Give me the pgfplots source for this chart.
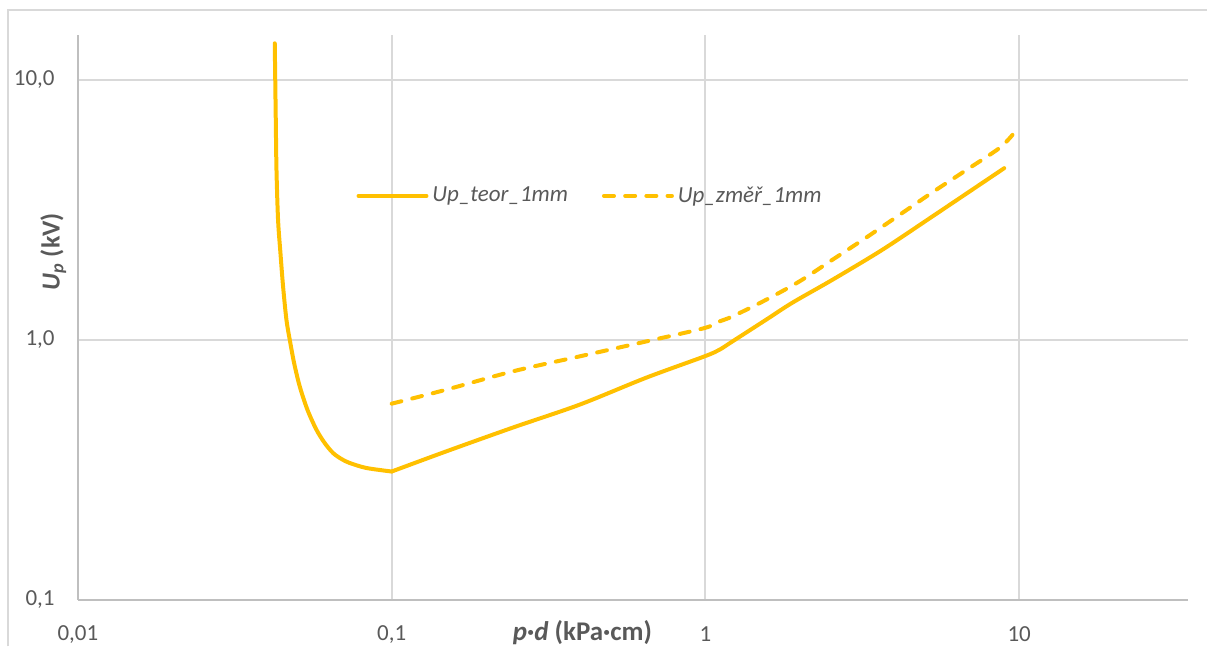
\documentclass[border=0pt]{standalone}
\usepackage{pgfplots}
\pgfplotsset{compat=1.18}
\usepackage{fontspec}
\setmainfont{Carlito}
\definecolor{gold}{HTML}{FFC000}
\definecolor{txt}{HTML}{595959}
\definecolor{gridc}{HTML}{D9D9D9}
\definecolor{axc}{HTML}{BFBFBF}
\begin{document}
\begin{tikzpicture}
\begin{axis}[
  scale only axis,
  width=555.5pt, height=282.5pt,
  xmode=log, ymode=log,
  xmin=0.01, xmax=34.53, ymin=0.1, ymax=14.9,
  axis x line=bottom, axis y line=left,
  axis line style={draw=axc, line width=1pt, -},
  major tick length=0pt, minor tick length=0pt,
  minor xtick={}, minor ytick={},
  xtick={0.01,0.1,1,10},
  xticklabels={{0,01},{0,1},{1},{10}},
  ytick={0.1,1,10},
  yticklabels={{0,1},{1,0},{10,0}},
  grid=major,
  major grid style={draw=gridc, line width=1pt},
  tick label style={font=\fontsize{11.5}{13}\selectfont, text=txt},
  xticklabel style={anchor=center, yshift=-17.5pt},
  yticklabel style={anchor=east, inner sep=0pt, xshift=-11.5pt},
  xlabel={\textbf{\textit{p}·\textit{d} (kPa·cm)}},
  xlabel style={at={(axis description cs:0.4545,0)}, anchor=center, yshift=-16.5pt, font=\fontsize{13.5}{15}\selectfont, text=txt},
  ylabel={\textbf{\textit{U}\textsubscript{\textit{p}} (kV)}},
  ylabel style={at={(axis description cs:-0.0222,0.616)}, anchor=center, rotate=0, font=\fontsize{13}{15}\selectfont, text=txt},
  legend style={at={(axis description cs:0.4622,0.715)}, anchor=center, draw=none, fill=none,
    font=\fontsize{11.5}{13}\selectfont\itshape, text=txt, legend columns=2,
    /tikz/every even column/.append style={column sep=15pt}},
  legend image code/.code={\draw[#1] (0pt,0pt) -- (34pt,0pt);},
  clip=false,
]
\addplot[gold, line width=2pt, line cap=round, line join=round, smooth, tension=0.5] coordinates {
(0.1,0.311)
(0.1493,0.3718)
(0.2429,0.4587)
(0.397,0.5623)
(0.6475,0.7143)
(0.9927,0.8627)
(1.108,0.915)
(1.219,0.985)
(1.561,1.194)
(1.892,1.388)
(2.539,1.701)
(3.662,2.219)
(5.284,2.980)
(8.96,4.575)
};
\addlegendentry{Up\_teor\_1mm}
\addplot[gold, line width=2pt, line cap=round, line join=round, smooth, tension=0.5, dash pattern=on 5pt off 5.6pt] coordinates {
(0.1,0.5673)
(0.1493,0.6424)
(0.2429,0.7553)
(0.397,0.8627)
(0.6475,0.985)
(0.9927,1.109)
(1.108,1.176)
(1.219,1.229)
(1.561,1.425)
(1.992,1.676)
(2.539,2.031)
(3.249,2.47)
(4.148,3.02)
(5.284,3.69)
(6.766,4.49)
(8.636,5.46)
(9.52,6.145)
};
\addlegendentry{Up\_změř\_1mm}
\addplot[gold, line width=2pt, line cap=round, line join=round, smooth, tension=0.5, forget plot] coordinates {
(0.04240,13.84)
(0.04272,7.02)
(0.04294,4.51)
(0.04344,2.894)
(0.04421,2.154)
(0.04507,1.603)
(0.04619,1.194)
(0.04733,1.0)
(0.04887,0.8134)
(0.05093,0.6614)
(0.05388,0.538)
(0.05754,0.451)
(0.06116,0.4005)
(0.06504,0.3665)
(0.06916,0.3476)
(0.07347,0.3355)
(0.08305,0.3209)
(0.1,0.311)
};
\end{axis}
\draw[gridc, line width=1pt] (-34.75pt,-23.5pt) -- (-34.75pt,295pt) -- (565pt,295pt);
\useasboundingbox (-39pt,-23.5pt) rectangle (565pt,300pt);
\end{tikzpicture}
\end{document}
